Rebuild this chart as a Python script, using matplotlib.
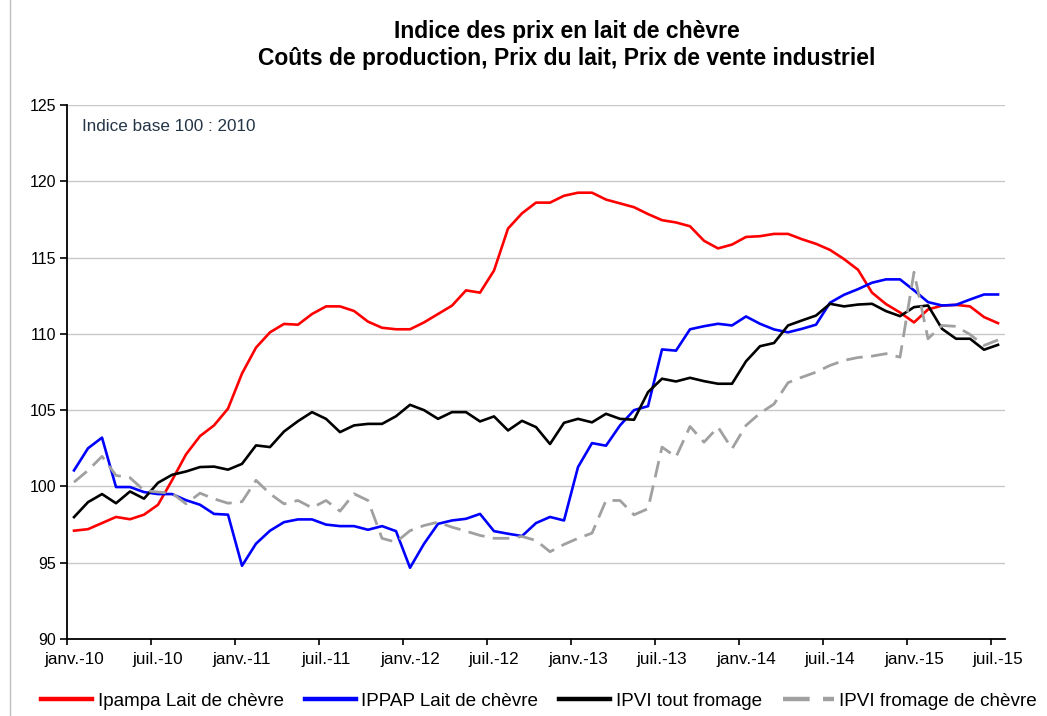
import numpy as np
import matplotlib
matplotlib.use("Agg")
import matplotlib.pyplot as plt
from matplotlib.patches import Rectangle
from matplotlib.ticker import FixedLocator, NullFormatter, FixedFormatter

plt.rcParams['font.family'] = ['Liberation Sans', 'DejaVu Sans']

# monthly index, janv.-10 .. juil.-15 (67 months)
ipampa = [97.1, 97.2, 97.6, 98.0, 97.85, 98.15, 98.8, 100.4, 102.1, 103.3,
          104.0, 105.1, 107.4, 109.1, 110.1, 110.65, 110.6, 111.3, 111.8, 111.8,
          111.5, 110.8, 110.4, 110.3, 110.3, 110.75, 111.3, 111.85, 112.85, 112.7,
          114.15, 116.9, 117.9, 118.6, 118.6, 119.05, 119.25, 119.25, 118.8, 118.55,
          118.3, 117.85, 117.45, 117.3, 117.05, 116.1, 115.6, 115.85, 116.35, 116.4,
          116.55, 116.55, 116.2, 115.9, 115.5, 114.9, 114.2, 112.7, 111.95, 111.4,
          110.75, 111.6, 111.85, 111.9, 111.8, 111.1, 110.7]
ippap = [101.05, 102.5, 103.2, 99.96, 99.96, 99.63, 99.5, 99.5, 99.1, 98.8,
         98.2, 98.15, 94.8, 96.25, 97.1, 97.66, 97.84, 97.84, 97.5, 97.4,
         97.4, 97.16, 97.4, 97.07, 94.67, 96.24, 97.55, 97.77, 97.88, 98.2,
         97.07, 96.9, 96.75, 97.6, 98.0, 97.77, 101.27, 102.84, 102.67, 104.0,
         105.0, 105.26, 108.98, 108.9, 110.3, 110.5, 110.66, 110.55, 111.14, 110.66,
         110.29, 110.1, 110.33, 110.6, 112.04, 112.56, 112.93, 113.35, 113.57, 113.57,
         112.85, 112.08, 111.86, 111.9, 112.25, 112.58, 112.58]
ipvi_tout = [97.99, 98.97, 99.5, 98.9, 99.67, 99.2, 100.24, 100.76, 100.98, 101.27,
             101.3, 101.1, 101.48, 102.69, 102.58, 103.6, 104.28, 104.87, 104.43, 103.56,
             104.0, 104.1, 104.1, 104.6, 105.35, 105.0, 104.43, 104.87, 104.87, 104.26,
             104.59, 103.67, 104.3, 103.89, 102.78, 104.17, 104.43, 104.2, 104.76, 104.43,
             104.37, 106.18, 107.06, 106.88, 107.12, 106.9, 106.73, 106.73, 108.2, 109.19,
             109.4, 110.55, 110.88, 111.2, 111.97, 111.8, 111.92, 111.97, 111.49, 111.16,
             111.75, 111.86, 110.33, 109.68, 109.68, 108.96, 109.28]
ipvi_chevre = [100.28, 101.05, 101.97, 100.72, 100.57, 99.74, 99.63, 99.56, 98.86, 99.56,
               99.19, 98.9, 99.0, 100.4, 99.52, 98.86, 99.08, 98.6, 99.08, 98.38,
               99.52, 99.08, 96.6, 96.35, 97.1, 97.44, 97.66, 97.33, 97.07, 96.79,
               96.6, 96.6, 96.72, 96.46, 95.72, 96.2, 96.6, 96.94, 99.08, 99.08,
               98.14, 98.54, 102.58, 101.93, 103.93, 102.9, 103.89, 102.47, 104.0, 104.8,
               105.4, 106.8, 107.16, 107.49, 107.93, 108.26, 108.45, 108.54, 108.7, 108.47,
               114.04, 109.68, 110.55, 110.49, 109.96, 109.24, 109.6]
tick_labels = ['janv.-10', 'juil.-10', 'janv.-11', 'juil.-11', 'janv.-12', 'juil.-12',
               'janv.-13', 'juil.-13', 'janv.-14', 'juil.-14', 'janv.-15', 'juil.-15']
names = ['Ipampa Lait de chèvre', 'IPPAP Lait de chèvre', 'IPVI tout fromage',
         'IPVI fromage de chèvre']

fig = plt.figure(figsize=(10.47, 7.16), dpi=100)
ax = fig.add_axes([0.064, 0.1075, 0.8959, 0.7459])

x = np.arange(len(ipampa))
ax.plot(x, ipampa, color='#FF0000', lw=1.9, label=names[0])
ax.plot(x, ippap, color='#0000FF', lw=1.9, label=names[1])
ax.plot(x, ipvi_tout, color='#000000', lw=1.9, label=names[2])
ax.plot(x, ipvi_chevre, color='#A0A0A0', lw=2.0, dashes=(6, 3), label=names[3])

ax.set_xlim(-0.5, 66.5)
ax.set_ylim(90, 125)
ax.set_yticks(np.arange(90, 126, 5))
ax.yaxis.grid(True, color='#C8C8C8', lw=1.0)
ax.set_axisbelow(True)

# tick marks between months, labels centred on the month
major = np.arange(0, 67, 6) - 0.5
ax.xaxis.set_major_locator(FixedLocator(major))
ax.xaxis.set_major_formatter(NullFormatter())
ax.xaxis.set_minor_locator(FixedLocator(np.arange(0, 67, 6)))
ax.xaxis.set_minor_formatter(FixedFormatter(tick_labels))
ax.tick_params(axis='x', which='major', direction='out', length=4, width=1.2)
ax.tick_params(axis='x', which='minor', length=0, pad=9, labelsize=12.3)
ax.tick_params(axis='y', direction='out', length=5, width=1.2, pad=3, labelsize=11.5)

for s in ['top', 'right']:
    ax.spines[s].set_visible(False)
for s in ['left', 'bottom']:
    ax.spines[s].set_linewidth(1.3)

ax.text(0.016, 0.96, 'Indice base 100 : 2010', transform=ax.transAxes,
        fontsize=12.3, color='#243447', va='center', ha='left')

fig.text(0.541, 0.956, 'Indice des prix en lait de chèvre', ha='center', va='center',
         fontsize=16.5, fontweight='bold')
fig.text(0.541, 0.918, 'Coûts de production, Prix du lait, Prix de vente industriel',
         ha='center', va='center', fontsize=16.5, fontweight='bold')

leg = fig.legend(loc='center', bbox_to_anchor=(0.515, 0.021), ncol=4, frameon=False,
                 fontsize=13.6, handlelength=2.7, handletextpad=0.3, columnspacing=1.1)
for ln in leg.get_lines():
    ln.set_linewidth(3.2)

# chart-area frame (left edge visible in the screenshot)
fig.patches.append(Rectangle((10 / 1047, -0.05), 1.2, 1.2, transform=fig.transFigure,
                             fill=False, edgecolor='#BFBFBF', lw=1.0))

fig.savefig('out.png', dpi=100)
